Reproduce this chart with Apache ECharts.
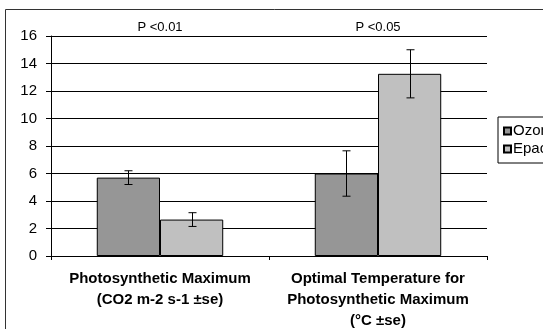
<!DOCTYPE html>
<html>
<head>
<meta charset="utf-8">
<script src="https://cdn.jsdelivr.net/npm/echarts@6/dist/echarts.min.js"></script>
<style>
  html, body { margin: 0; padding: 0; background: #fff; }
</style>
</head>
<body>
<div id="chart" style="width:543px;height:329px;"></div>
<script>
  // chart data
  var categories = [
    'Photosynthetic Maximum\n(CO2 m-2 s-1 ±se)',
    'Optimal Temperature for\nPhotosynthetic Maximum\n(°C ±se)'
  ]
  var seriesNames = ['Ozone', 'Epacris']
  var ozoneValues = [5.7, 6.0]
  var ozoneErr = [0.5, 1.65]
  var epaValues = [2.65, 13.25]
  var epaErr = [0.5, 1.75]
  var pLabels = ['P <0.01', 'P <0.05']
  var yTicks = [0, 2, 4, 6, 8, 10, 12, 14, 16]

  var catGap = 0.42
  var font = 'Liberation Sans, Arial, sans-serif'

  function errorSeries(values, errs, side) {
    var data = []
    for (var i = 0; i < values.length; i++) {
      data.push([i, values[i] - errs[i], values[i] + errs[i]])
    }
    return {
      type: 'custom',
      z: 10,
      data: data,
      renderItem: function (params, api) {
        var band = api.size([1, 0])[0]
        var bw = band * (1 - catGap) / 2
        var lo = api.coord([api.value(0), api.value(1)])
        var hi = api.coord([api.value(0), api.value(2)])
        var x = Math.round(lo[0] + side * bw / 2) + 0.5
        var cap = 4
        var style = { stroke: '#000', lineWidth: 1 }
        return {
          type: 'group',
          children: [
            { type: 'line', shape: { x1: x, y1: hi[1], x2: x, y2: lo[1] }, style: style },
            { type: 'line', shape: { x1: x - cap, y1: hi[1], x2: x + cap, y2: hi[1] }, style: style },
            { type: 'line', shape: { x1: x - cap, y1: lo[1], x2: x + cap, y2: lo[1] }, style: style }
          ]
        }
      }
    }
  }

  var chart = echarts.init(document.getElementById('chart'))
  var option = {
    animation: false,
    textStyle: { fontFamily: font },
    grid: { left: 51, top: 36, right: 56, bottom: 73, outerBoundsMode: 'none', containLabel: false },
    legend: {
      data: seriesNames,
      orient: 'vertical',
      left: 498,
      top: 117,
      padding: [6, 30, 6, 5],
      itemGap: 2,
      itemWidth: 7,
      itemHeight: 7,
      icon: 'rect',
      borderColor: '#000',
      borderWidth: 1,
      borderRadius: 0,
      textStyle: { color: '#000', fontSize: 15, lineHeight: 16, padding: [0, 0, 0, -3] }
    },
    xAxis: {
      type: 'category',
      data: categories,
      axisLine: { lineStyle: { color: '#000', width: 1 } },
      axisTick: { show: true, length: 4, lineStyle: { color: '#000' } },
      axisLabel: {
        color: '#000',
        fontWeight: 'bold',
        fontSize: 15,
        lineHeight: 21,
        margin: 12,
        interval: 0
      }
    },
    yAxis: {
      type: 'value',
      min: 0,
      max: 16,
      interval: 2,
      axisLine: { show: true, lineStyle: { color: '#000', width: 1 } },
      axisTick: { show: true, length: 5, lineStyle: { color: '#000' } },
      axisLabel: { color: '#000', fontSize: 15, margin: 14 },
      splitLine: { lineStyle: { color: '#000', width: 1 } }
    },
    series: [
      {
        name: seriesNames[0],
        type: 'bar',
        data: ozoneValues,
        barGap: '0%',
        barCategoryGap: (catGap * 100) + '%',
        itemStyle: { color: '#969696', borderColor: '#000', borderWidth: 1 }
      },
      {
        name: seriesNames[1],
        type: 'bar',
        data: epaValues,
        itemStyle: { color: '#c0c0c0', borderColor: '#000', borderWidth: 1 }
      },
      errorSeries(ozoneValues, ozoneErr, -1),
      errorSeries(epaValues, epaErr, 1)
    ]
  }
  chart.setOption(option)

  // outer frame and P value labels above each category
  var graphics = [{
    type: 'rect',
    shape: { x: 5.5, y: 9.5, width: 600, height: 400 },
    style: { fill: 'none', stroke: '#333', lineWidth: 1 },
    silent: true
  }]
  for (var i = 0; i < pLabels.length; i++) {
    var p = chart.convertToPixel({ seriesIndex: 0 }, [i, 0])
    graphics.push({
      type: 'text',
      x: p[0],
      y: 27,
      style: {
        text: pLabels[i],
        fill: '#000',
        font: '13px ' + font,
        align: 'center',
        verticalAlign: 'middle'
      }
    })
  }
  chart.setOption({ graphic: graphics })
</script>
</body>
</html>
